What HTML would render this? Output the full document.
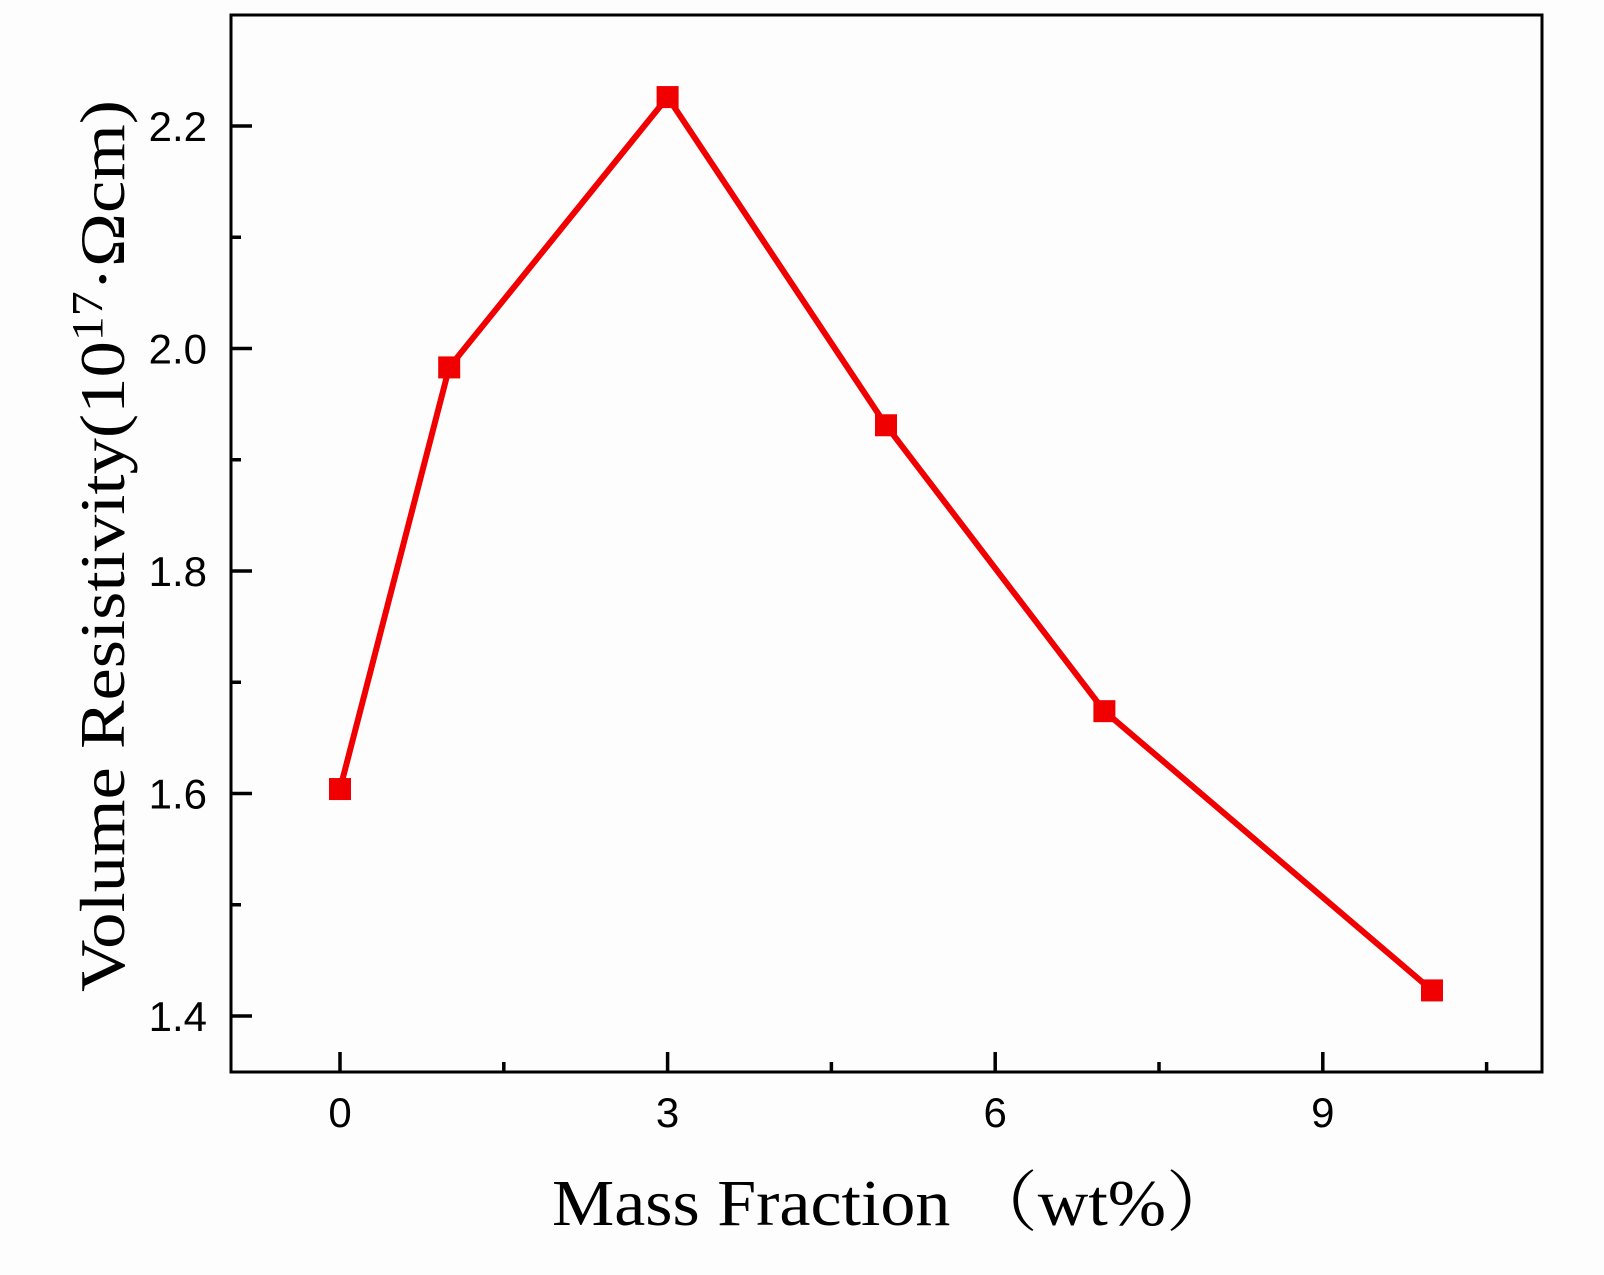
<!DOCTYPE html>
<html><head><meta charset="utf-8"><style>
html,body{margin:0;padding:0;background:#fdfdfd;}
svg{display:block;}
</style></head><body>
<svg id="chart" width="1604" height="1275" viewBox="0 0 1604 1275" xmlns="http://www.w3.org/2000/svg">
<rect x="0" y="0" width="1604" height="1275" fill="#fdfdfd"/>
<g id="axes"></g>
<g id="series"></g>
<text x="552" y="1225" font-family="Liberation Serif, 'Noto Serif CJK SC', serif" font-size="66" textLength="684" lengthAdjust="spacingAndGlyphs" fill="#000">Mass Fraction （wt%）</text>
<text transform="translate(124,992) rotate(-90)" font-family="Liberation Serif, serif" font-size="64" textLength="892" lengthAdjust="spacingAndGlyphs" fill="#000">Volume Resistivity(10<tspan dy="-22" font-size="44">17</tspan><tspan dy="22">·Ωcm)</tspan></text>
</svg>
<script>
const xValues=[0,1,3,5,7,10];
const yValues=[1.604,1.983,2.226,1.931,1.674,1.423];
const xTicks=[0,3,6,9];
const xMinor=[1.5,4.5,7.5,10.5];
const yTicks=[1.4,1.6,1.8,2.0,2.2];
const yMinor=[1.5,1.7,1.9,2.1];
const yTickLabels=["1.4","1.6","1.8","2.0","2.2"];
const xTickLabels=["0","3","6","9"];

const L=231,R=1542,T=15,B=1072;
const sx=v=>340+v*109.2;
const sy=v=>1016-(v-1.4)*1112.5;
const NS="http://www.w3.org/2000/svg";
const axes=document.getElementById('axes');
const series=document.getElementById('series');
function mk(tag,attrs,parent){const e=document.createElementNS(NS,tag);for(const k in attrs)e.setAttribute(k,attrs[k]);parent.appendChild(e);return e;}

const frame=mk('rect',{x:L,y:T,width:R-L,height:B-T,fill:'none',stroke:'#000','stroke-width':3},axes);



xTicks.forEach((v,i)=>{
  const t=mk('line',{x1:sx(v),x2:sx(v),y1:B,y2:B-20,stroke:'#000','stroke-width':3.5},axes);
  
  
  const lb=mk('text',{x:sx(v),y:1127,'text-anchor':'middle','font-family':'Liberation Sans, sans-serif','font-size':42,fill:'#000'},axes);
  lb.textContent=xTickLabels[i];
  
  
});
xMinor.forEach(v=>{
  const t=mk('line',{x1:sx(v),x2:sx(v),y1:B,y2:B-10,stroke:'#000','stroke-width':3.5},axes);
  
  
});
yTicks.forEach((v,i)=>{
  const t=mk('line',{x1:L,x2:L+21,y1:sy(v),y2:sy(v),stroke:'#000','stroke-width':3.5},axes);
  
  
  const lb=mk('text',{x:207,y:sy(v)+15,'text-anchor':'end','font-family':'Liberation Sans, sans-serif','font-size':42,fill:'#000'},axes);
  lb.textContent=yTickLabels[i];
  
  
});
yMinor.forEach(v=>{
  const t=mk('line',{x1:L,x2:L+10,y1:sy(v),y2:sy(v),stroke:'#000','stroke-width':3.5},axes);
  
  
});

const pts=xValues.map((x,i)=>sx(x)+','+sy(yValues[i])).join(' ');
const line=mk('polyline',{points:pts,fill:'none',stroke:'#f00000','stroke-width':6,'stroke-linejoin':'miter'},series);


xValues.forEach((x,i)=>{
  const m=mk('rect',{x:sx(x)-11,y:sy(yValues[i])-11,width:22,height:22,fill:'#f00000'},series);
  
  
});
</script>
</body></html>
